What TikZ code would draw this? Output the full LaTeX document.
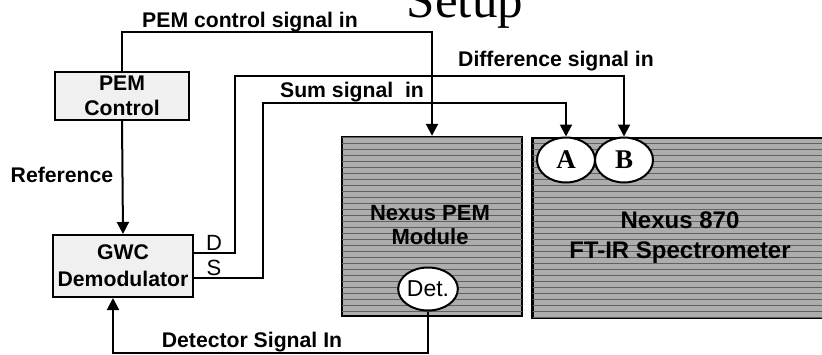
\documentclass[tikz,border=0pt]{standalone}
\usepackage{fontspec}
\setmainfont{Liberation Sans}
\newfontfamily\romfont{Liberation Serif}
\usetikzlibrary{arrows.meta,patterns,shapes.geometric}

\begin{document}
\begin{tikzpicture}[
  x=0.5pt, y=-0.5pt, line width=1pt,
  flow/.style={draw=black, line width=1pt, -{Triangle[length=6pt,width=6pt]}},
  wire/.style={draw=black, line width=1pt},
  ctl/.style={draw=black, fill=black!6, align=center, inner sep=0pt,
    font=\bfseries\fontsize{10.6}{12.8}\selectfont},
  inst/.style={draw=black, line width=1.2pt, fill=black!32, inner sep=0pt,
    postaction={pattern=horizontal lines, pattern color=black!62}},
  port/.style={ellipse, draw=black, line width=1pt, fill=white, inner sep=0pt,
    minimum width=29pt, minimum height=22.5pt},
  lab/.style={font=\bfseries\fontsize{10.6}{12}\selectfont, anchor=base},
  big/.style={font=\bfseries\fontsize{12}{15}\selectfont, align=center},
]
  \useasboundingbox (0,0) rectangle (822,354);

  % Title, cut at the top edge.
  \node[font=\romfont\fontsize{25.5}{28}\selectfont, anchor=base] (title) at (465,17) {Setup};

  % Control electronics.
  \node[ctl, minimum width=67pt, minimum height=24pt] (pemctl) at (122,96) {PEM\\Control};
  \node[ctl, minimum width=70pt, minimum height=31pt, font=\bfseries\fontsize{10.6}{13.5}\selectfont]
    (gwc) at (123,266) {GWC\\Demodulator};

  % Instruments.
  \node[inst, minimum width=90pt, minimum height=89.5pt] (pemmod) at (432,226.5) {};
  \node[inst, minimum width=146pt, minimum height=90pt] (ftir) at (678.5,228) {};
  \node[big, font=\bfseries\fontsize{11}{12}\selectfont] (pemtxt) at (430,225) {Nexus PEM\\Module};
  \node[big] (ftirtxt) at (680,238) {Nexus 870\\FT-IR Spectrometer};
  \node[port, minimum width=26.5pt, minimum height=21.5pt, font=\fontsize{11.5}{12}\selectfont]
    (det) at (428,289) {Det.};
  \node[port, font=\romfont\bfseries\fontsize{13.5}{14}\selectfont] (pa) at (566,160) {A};
  \node[port, font=\romfont\bfseries\fontsize{13.5}{14}\selectfont] (pb) at (624,160) {B};

  % Routing corners.
  \coordinate (cin) at (122,32);
  \coordinate (dout) at (gwc.east |- 0,253);
  \coordinate (sout) at (gwc.east |- 0,278);
  \coordinate (dup) at (235,76);
  \coordinate (sup) at (263,103);
  \coordinate (detlo) at (428,353);
  \coordinate (detin) at (113,353);

  % Signals.
  \draw[flow] (pemctl.north) -- (cin) -| (pemmod.north);
  \draw[flow] (pemctl.south) -- (gwc.north);
  \draw[flow] (dout) -| (dup) -| (pb.north);
  \draw[flow] (sout) -| (sup) -| (pa.north);
  \draw[flow] (det.south) -- (detlo) -- (detin) -- (detin |- gwc.south);

  % Labels.
  \node[lab] (lctl) at (250,27) {PEM control signal in};
  \node[lab] (ldif) at (556,66) {Difference signal in};
  \node[lab] (lsum) at (352,97) {Sum signal\ \ in};
  \node[lab] (lref) at (62,182) {Reference};
  \node[lab] (ldet) at (252,347) {Detector Signal In};
  \node[font=\fontsize{11}{12}\selectfont, anchor=base] (ld) at (214,250) {D};
  \node[font=\fontsize{11}{12}\selectfont, anchor=base] (ls) at (214,275) {S};
\end{tikzpicture}
\end{document}
